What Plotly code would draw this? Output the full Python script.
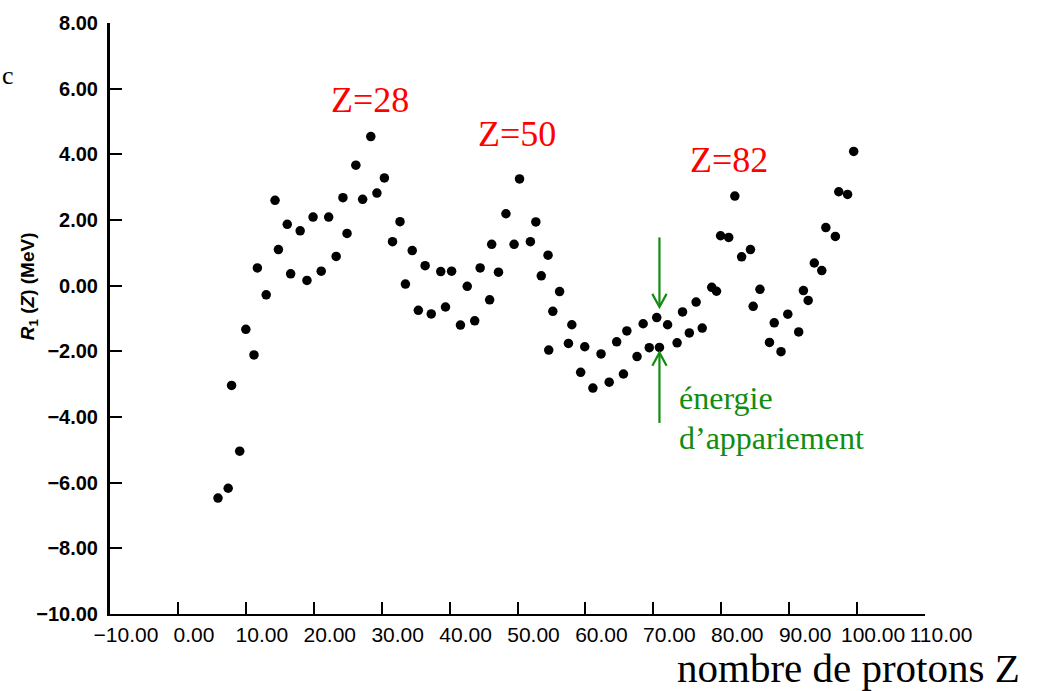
import plotly.graph_objects as go

# Data (proton number Z, residual R1(Z) in MeV)
Z = [5.9, 7.4, 7.9, 9.1, 10.0, 11.2, 11.7, 13.0, 14.3, 14.8,
     16.1, 16.6, 18.0, 19.0, 19.9, 21.1, 22.2, 23.3, 24.3, 24.9,
     26.2, 27.2, 28.4, 29.3, 30.4, 31.6, 32.7, 33.5, 34.5, 35.4,
     36.4, 37.3, 38.7, 39.4, 40.3, 41.6, 42.6, 43.7, 44.5, 45.9,
     46.2, 47.2, 48.3, 49.5, 50.3, 51.9, 52.7, 53.5, 54.5, 54.6,
     55.2, 56.2, 57.5, 58.0, 59.3, 59.9, 61.1, 62.3, 63.5, 64.6,
     65.6, 66.1, 67.6, 68.5, 69.4, 70.5, 70.9, 72.1, 73.5, 74.3,
     75.3, 76.3, 77.2, 78.6, 79.3, 79.9, 81.1, 82.0, 83.0, 84.3,
     84.7, 85.7, 87.1, 87.8, 88.8, 89.8, 91.4, 92.1, 92.8, 93.7,
     94.8, 95.4, 96.8, 97.3, 98.6, 99.5]
R1 = [-6.47, -6.17, -3.04, -5.04, -1.33, -2.11, 0.54, -0.28, 2.60, 1.10,
      1.87, 0.36, 1.67, 0.16, 2.09, 0.44, 2.09, 0.89, 2.68, 1.59,
      3.67, 2.63, 4.54, 2.82, 3.28, 1.34, 1.95, 0.05, 1.07, -0.75,
      0.61, -0.86, 0.43, -0.65, 0.44, -1.20, -0.02, -1.07, 0.54, -0.43,
      1.26, 0.41, 2.19, 1.26, 3.25, 1.34, 1.94, 0.30, 0.93, -1.96,
      -0.78, -0.18, -1.76, -1.19, -2.64, -1.86, -3.12, -2.08, -2.94, -1.71,
      -2.69, -1.38, -2.16, -1.16, -1.89, -0.97, -1.88, -1.19, -1.74, -0.80,
      -1.44, -0.50, -1.29, -0.05, -0.17, 1.52, 1.47, 2.73, 0.88, 1.10,
      -0.63, -0.11, -1.73, -1.13, -2.01, -0.87, -1.41, -0.15, -0.45, 0.69,
      0.46, 1.77, 1.50, 2.86, 2.78, 4.09]

x_tickvals = [-10, 0, 10, 20, 30, 40, 50, 60, 70, 80, 90, 100, 110]
x_ticktext = ["\u221210.00", "0.00", "10.00", "20.00", "30.00", "40.00", "50.00",
              "60.00", "70.00", "80.00", "90.00", "100.00", "110.00"]
y_tickvals = [-10, -8, -6, -4, -2, 0, 2, 4, 6, 8]
y_ticktext = ["\u221210.00", "\u22128.00", "\u22126.00", "\u22124.00", "\u22122.00",
              "0.00", "2.00", "4.00", "6.00", "8.00"]

magic_labels = ["Z=28", "Z=50", "Z=82"]
magic_x = [28.3, 49.9, 81.1]
magic_y = [5.67, 4.63, 3.84]

# pairing-energy arrows (data coordinates of tail and tip)
arrow_x = 70.9
arrow_down = (1.47, -0.65)
arrow_up = (-4.18, -2.04)

fig = go.Figure()
fig.add_trace(go.Scatter(
    x=Z, y=R1, mode="markers",
    marker=dict(color="black", size=9.5, line=dict(width=0)),
    showlegend=False, hoverinfo="x+y",
))

L, R, T, B = 110, 130, 19, 77
W, H = 1055, 691

fig.update_layout(
    width=W, height=H,
    margin=dict(l=L, r=R, t=T, b=B, pad=0),
    paper_bgcolor="white", plot_bgcolor="white",
    showlegend=False,
)
fig.update_xaxes(
    range=[-10, 110], tickvals=x_tickvals, ticktext=x_ticktext,
    showline=True, linecolor="black", linewidth=2,
    ticks="inside", ticklen=12, tickwidth=2, tickcolor="black",
    showgrid=False, zeroline=False,
    tickfont=dict(family="Liberation Sans", size=21, color="black"),
    ticklabelshift=16, ticklabelstandoff=1,
)
fig.update_yaxes(
    range=[-10, 8], tickvals=y_tickvals, ticktext=y_ticktext,
    showline=True, linecolor="black", linewidth=3,
    ticks="inside", ticklen=12, tickwidth=2, tickcolor="black",
    showgrid=False, zeroline=False,
    tickfont=dict(family="Liberation Sans", size=20, color="black", weight="bold"),
    ticklabelstandoff=5,
)

for txt, mx, my in zip(magic_labels, magic_x, magic_y):
    fig.add_annotation(x=mx, y=my, xref="x", yref="y", text=txt, showarrow=False,
                       font=dict(family="Liberation Serif", size=36, color="red"),
                       xanchor="center", yanchor="middle")

green = "#128c12"
hw = 1.05   # chevron half-width (Z units)
hh = 0.40   # chevron height (MeV units)
for tail, tip in (arrow_down, arrow_up):
    d = 1 if tail > tip else -1
    fig.add_shape(type="line", x0=arrow_x, x1=arrow_x, y0=tail, y1=tip,
                  xref="x", yref="y", line=dict(color=green, width=2.2))
    fig.add_shape(type="path", xref="x", yref="y",
                  path=f"M {arrow_x-hw},{tip+d*hh} L {arrow_x},{tip} L {arrow_x+hw},{tip+d*hh}",
                  line=dict(color=green, width=2.2))

fig.add_annotation(x=73.5, y=-3.43, xref="x", yref="y", text="énergie",
                   showarrow=False, xanchor="left", yanchor="middle",
                   font=dict(family="Liberation Serif", size=32, color=green))
fig.add_annotation(x=73.5, y=-4.64, xref="x", yref="y", text="d\u2019appariement",
                   showarrow=False, xanchor="left", yanchor="middle",
                   font=dict(family="Liberation Serif", size=32, color=green))

plot_w = W - L - R
plot_h = H - T - B
def px_x(p):
    return (p - L) / plot_w
def px_y(p):
    return (H - B - p) / plot_h

fig.add_annotation(x=px_x(1022), y=px_y(668), xref="paper", yref="paper",
                   text="nombre de protons Z", showarrow=False,
                   xanchor="right", yanchor="middle",
                   font=dict(family="Liberation Serif", size=41, color="black"))

fig.add_annotation(x=px_x(29), y=px_y(284), xref="paper", yref="paper",
                   text="<b><i>R</i><sub>1</sub> (<i>Z</i>) (MeV)</b>", showarrow=False,
                   textangle=-90, xanchor="center", yanchor="middle",
                   font=dict(family="Liberation Sans", size=19, color="black"))

fig.add_annotation(x=px_x(1), y=px_y(72), xref="paper", yref="paper",
                   text="c", showarrow=False, xanchor="left", yanchor="middle",
                   borderpad=0,
                   font=dict(family="Liberation Serif", size=26, color="black"))

fig.write_html("out.html",
               config={"displayModeBar": False},
               post_script="document.body.style.margin='0';document.body.style.padding='0';")
